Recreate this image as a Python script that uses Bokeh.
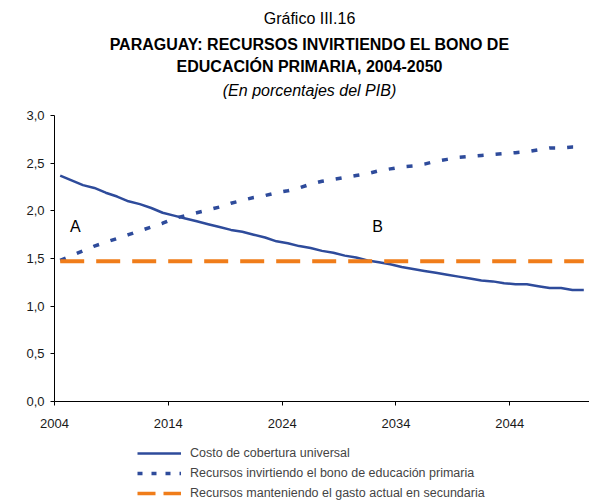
from bokeh.plotting import figure
from bokeh.layouts import column
from bokeh.models import (Range1d, FixedTicker, CustomJSTickFormatter, Label,
                          Legend, LegendItem, ColumnDataSource)
from bokeh.embed import file_html
from bokeh.resources import INLINE

years = list(range(2004, 2051))
costo = [2.37, 2.32, 2.27, 2.24, 2.19, 2.15, 2.10, 2.07, 2.03, 1.98,
         1.95, 1.92, 1.89, 1.86, 1.83, 1.80, 1.78, 1.75, 1.72, 1.68,
         1.66, 1.63, 1.61, 1.58, 1.56, 1.53, 1.51, 1.48, 1.46, 1.44,
         1.41, 1.39, 1.37, 1.35, 1.33, 1.31, 1.29, 1.27, 1.26, 1.24,
         1.23, 1.23, 1.21, 1.19, 1.19, 1.17, 1.17]
invirtiendo = [1.48, 1.53, 1.58, 1.63, 1.67, 1.71, 1.75, 1.79, 1.83, 1.87,
               1.92, 1.95, 1.98, 2.01, 2.04, 2.08, 2.11, 2.14, 2.16, 2.19,
               2.21, 2.24, 2.28, 2.31, 2.33, 2.35, 2.37, 2.39, 2.42, 2.44,
               2.46, 2.47, 2.49, 2.52, 2.54, 2.56, 2.57, 2.58, 2.59, 2.60,
               2.61, 2.62, 2.64, 2.66, 2.66, 2.67, 2.67]
manteniendo = [1.47] * len(years)
tick_years = [2004, 2014, 2024, 2034, 2044]
y_ticks = [0.0, 0.5, 1.0, 1.5, 2.0, 2.5, 3.0]
series_names = ["Costo de cobertura universal",
                "Recursos invirtiendo el bono de educación primaria",
                "Recursos manteniendo el gasto actual en secundaria"]
title_lines = ["Gráfico III.16",
               "PARAGUAY: RECURSOS INVIRTIENDO EL BONO DE",
               "EDUCACIÓN PRIMARIA, 2004-2050",
               "(En porcentajes del PIB)"]

BLUE = "#2E4B9B"
ORANGE = "#F07D1A"
FONT = "Liberation Sans"
W = 589
LEFT = 54


def bare(fig):
    fig.outline_line_color = None
    fig.grid.visible = False
    fig.background_fill_color = "white"
    fig.border_fill_color = "white"
    return fig


# ---- heading block (x in page pixels, y downward) ----
head = bare(figure(width=W, height=100, output_backend="svg", toolbar_location=None,
                   x_range=Range1d(LEFT, W), y_range=Range1d(100, 0),
                   min_border_left=LEFT, min_border_right=0, min_border_top=0,
                   min_border_bottom=0, x_axis_type=None, y_axis_type=None))
for text, style, yy in zip(title_lines, ["normal", "bold", "bold", "italic"],
                           [18, 44, 66, 90]):
    head.add_layout(Label(x=309, y=yy, text=text, text_font=FONT, text_font_size="16px",
                          text_font_style=style, text_align="center",
                          text_baseline="middle", text_color="black"))

# ---- main chart ----
src = ColumnDataSource(dict(x=years, costo=costo, inv=invirtiendo, man=manteniendo))

p = figure(width=W, height=333, output_backend="svg", toolbar_location=None,
           x_range=Range1d(years[0] - 0.5, years[-1] + 0.5), y_range=Range1d(0, 3.0),
           min_border_left=LEFT, min_border_right=0, min_border_top=15,
           min_border_bottom=32)
bare(p)

p.line("x", "costo", source=src, line_color=BLUE, line_width=2.5)
p.line("x", "inv", source=src, line_color=BLUE, line_width=3.5, line_dash="6 12")
p.line("x", "man", source=src, line_color=ORANGE, line_width=4, line_dash="24 12")

p.xaxis.ticker = FixedTicker(ticks=[t - 0.5 for t in tick_years])
p.xaxis.formatter = CustomJSTickFormatter(code="return (tick + 0.5).toFixed(0);")
p.yaxis.ticker = FixedTicker(ticks=y_ticks)
p.yaxis.formatter = CustomJSTickFormatter(code="return tick.toFixed(1).replace('.', ',');")
for ax in (p.xaxis, p.yaxis):
    ax.axis_line_color = "black"
    ax.axis_line_width = 1
    ax.major_tick_line_color = "black"
    ax.major_tick_in = 0
    ax.major_tick_out = 4
    ax.minor_tick_line_color = None
    ax.major_label_text_font = FONT
    ax.major_label_text_font_size = "13px"
    ax.major_label_text_color = "#1a1a1a"
p.xaxis.major_label_standoff = 13
p.yaxis.major_label_standoff = 6

for t, xv in (("A", 2005.34), ("B", 2031.88)):
    p.add_layout(Label(x=xv, y=1.84, text=t, text_font=FONT, text_font_size="16px",
                       text_align="center", text_baseline="middle", text_color="black"))

# ---- legend block (sample lines kept outside the visible range) ----
leg = bare(figure(width=W, height=70, output_backend="svg", toolbar_location=None,
                  x_range=Range1d(0, 1), y_range=Range1d(0, 1),
                  min_border_left=LEFT, min_border_right=0, min_border_top=0,
                  min_border_bottom=0, x_axis_type=None, y_axis_type=None))
g1 = leg.line(x=[5, 6], y=[5, 5], line_color=BLUE, line_width=2.5)
g2 = leg.line(x=[5, 6], y=[5, 5], line_color=BLUE, line_width=3.5, line_dash="5 9")
g3 = leg.line(x=[5, 6], y=[5, 5], line_color=ORANGE, line_width=3.5, line_dash="18 8")
legend = Legend(items=[LegendItem(label=series_names[0], renderers=[g1]),
                       LegendItem(label=series_names[1], renderers=[g2]),
                       LegendItem(label=series_names[2], renderers=[g3])],
                location=(137 - LEFT, 0), orientation="vertical",
                glyph_width=44, glyph_height=20, label_height=20, spacing=0,
                padding=0, margin=0, label_standoff=9,
                label_text_font=FONT, label_text_font_size="12.5px",
                border_line_color=None, background_fill_alpha=0)
leg.add_layout(legend, "center")

layout = column(head, p, leg, spacing=0)
open("out.html", "w").write(file_html(layout, INLINE))
